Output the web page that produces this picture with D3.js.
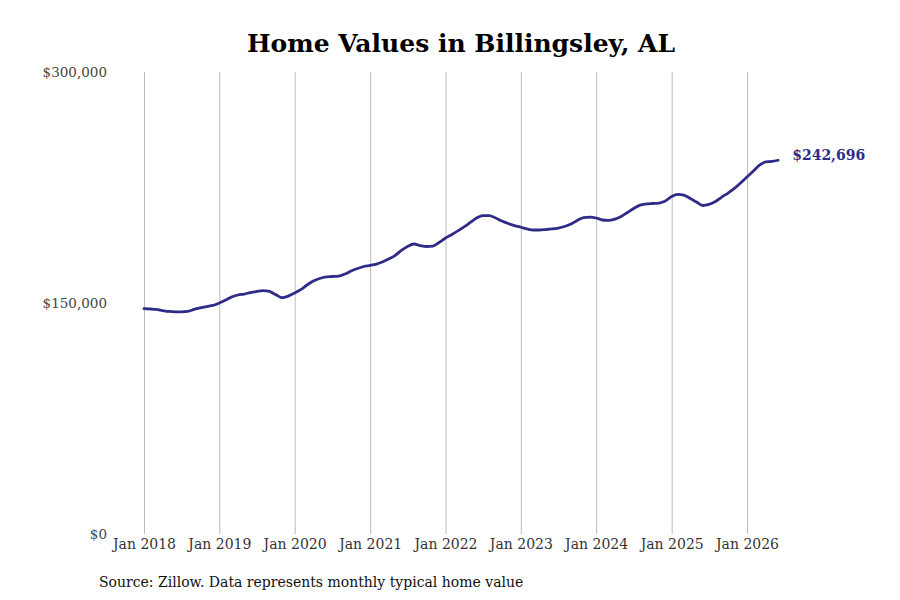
<!DOCTYPE html>
<html>
<head>
<meta charset="utf-8">
<script src="https://cdn.jsdelivr.net/npm/d3@7"></script>
<style>
  body { margin: 0; background: #fff; }
  svg { display: block; font-family: "DejaVu Serif", serif; }
</style>
</head>
<body>
<svg id="chart" width="900" height="600"></svg>
<script>
var START_YEAR = 2018;

// monthly typical home value, Jan 2018 .. Jun 2026
var values = [
    146400, 146100, 145800, 145100, 144500, 144200, 144200, 144500, 145800, 146800, 147700, 148400,
    150000, 151900, 153900, 155200, 155800, 156800, 157500, 158100, 157500, 155500, 153400, 154500,
    156500, 158800, 161700, 164300, 165900, 166900, 167200, 167500, 168800, 170800, 172400, 173700,
    174400, 175300, 176600, 178600, 180800, 184100, 186700, 188300, 187300, 186700, 187000, 189300,
    192200, 194500, 196800, 199400, 202300, 205200, 206800, 206800, 205200, 203200, 201600, 200300,
    199200, 198100, 197400, 197400, 197700, 198100, 198700, 199700, 201300, 203600, 205500, 205800,
    205200, 203900, 203600, 204500, 206200, 208800, 211400, 213600, 214300, 214600, 214900, 216200,
    219200, 220500, 220100, 217900, 215600, 213300, 214000, 215900, 218800, 221400, 224400, 227900,
    231800, 235700, 239300, 241600, 241900, 242696
];

var tickYears = [2018, 2019, 2020, 2021, 2022, 2023, 2024, 2025, 2026];
var yTicks = [0, 150000, 300000];

var LINE_COLOR = "#2e2c88";

var svg = d3.select("#chart");

var data = values.map(function (v, i) {
    return { date: new Date(START_YEAR, i, 1), value: v };
});

var x = d3.scaleTime()
    .domain([new Date(2018, 0, 1), new Date(2026, 0, 1)])
    .range([144, 747]);

var y = d3.scaleLinear()
    .domain([0, 300000])
    .range([534, 72]);

// title
svg.append("text")
    .attr("x", 461)
    .attr("y", 52)
    .attr("text-anchor", "middle")
    .style("font-size", "25px")
    .style("font-weight", "bold")
    .style("fill", "#000")
    .text("Home Values in Billingsley, AL");

// vertical gridlines + x labels
var xAxis = d3.axisBottom(x)
    .tickValues(tickYears.map(function (yr) { return new Date(yr, 0, 1); }))
    .tickSize(-(y(0) - y(300000)))
    .tickFormat(d3.timeFormat("Jan %Y"));

var gx = svg.append("g")
    .attr("transform", "translate(0," + y(0) + ")")
    .call(xAxis);

gx.select(".domain").remove();
gx.selectAll(".tick line").attr("stroke", "#bbbbbb");
gx.selectAll(".tick text")
    .attr("y", 5)
    .style("font-family", "DejaVu Serif, serif")
    .style("font-size", "14px")
    .style("fill", "#333");

// y labels, no gridlines
var yAxis = d3.axisLeft(y)
    .tickValues(yTicks)
    .tickSize(0)
    .tickFormat(function (d) { return "$" + d3.format(",")(d); });

var gy = svg.append("g")
    .attr("transform", "translate(107,0)")
    .call(yAxis);

gy.select(".domain").remove();
gy.selectAll(".tick text")
    .attr("x", 0)
    .style("font-family", "DejaVu Serif, serif")
    .style("font-size", "13.5px")
    .style("fill", "#444");

// line
var line = d3.line()
    .x(function (d) { return x(d.date); })
    .y(function (d) { return y(d.value); })
    .curve(d3.curveMonotoneX);

svg.append("path")
    .datum(data)
    .attr("fill", "none")
    .attr("stroke", LINE_COLOR)
    .attr("stroke-width", 2.8)
    .attr("stroke-linecap", "round")
    .attr("d", line);

// end label
var last = data[data.length - 1];
svg.append("text")
    .attr("x", x(last.date) + 14)
    .attr("y", y(last.value) - 4)
    .attr("dominant-baseline", "middle")
    .style("font-size", "14px")
    .style("font-weight", "bold")
    .style("fill", LINE_COLOR)
    .text("$" + d3.format(",")(last.value));

// source
svg.append("text")
    .attr("x", 99)
    .attr("y", 587)
    .style("font-size", "14px")
    .style("fill", "#111")
    .text("Source: Zillow. Data represents monthly typical home value");
</script>
</body>
</html>
